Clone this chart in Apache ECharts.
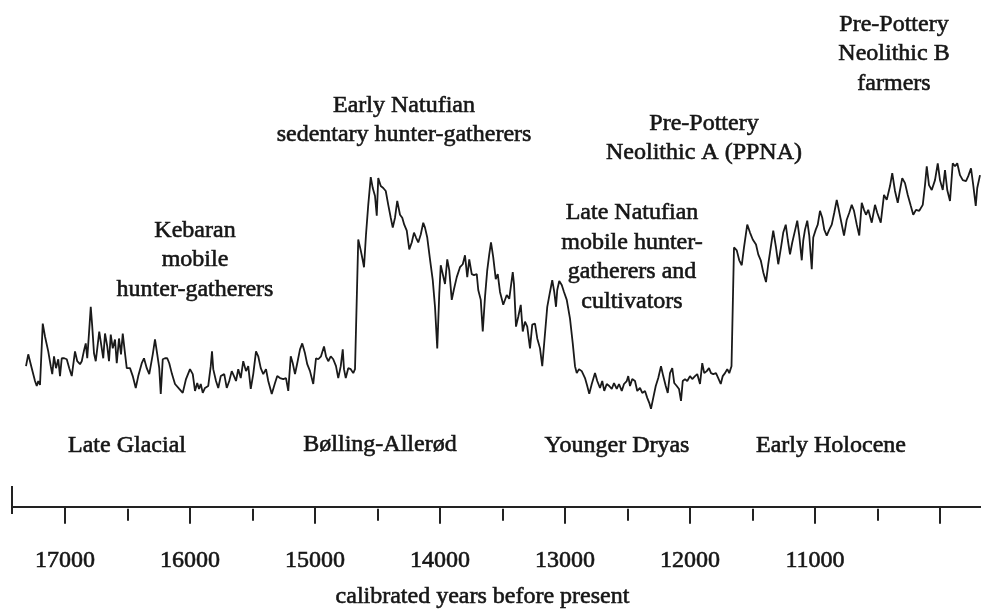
<!DOCTYPE html>
<html>
<head>
<meta charset="utf-8">
<script src="https://cdn.jsdelivr.net/npm/echarts@6/dist/echarts.min.js"></script>
<style>
html,body{margin:0;padding:0;background:#fff;}
#chart{width:981px;height:614px;}
</style>
</head>
<body>
<div id="chart"></div>
<script>
// calibrated years before present
var years = [
17312,17294,17266,17240,17226,17214,17200,17178,17160,17134,17114,17102,17088,17072,17054,17040,17026,17006,16986,16966,
16946,16920,16902,16880,16866,16846,16834,16822,16806,16794,16782,16768,16754,16742,16726,16712,16694,16680,16662,16648,
16634,16618,16600,16586,16568,16552,16538,16520,16506,16480,16458,16434,16414,16386,16368,16346,16326,16298,16280,16262,
16246,16234,16218,16200,16182,16166,16144,16120,16086,
16058,16032,16000,15978,15960,15942,15928,15914,15898,15880,15854,15834,15824,15814,15792,15774,15754,15738,15726,15706,
15686,15666,15648,15632,15614,15594,15574,15552,15534,15514,15494,15472,15454,15434,15414,15392,15374,15346,15320,15302,
15280,15254,15232,15214,15194,15178,15160,15142,15120,15102,15080,15062,15040,15014,14992,14974,14952,14928,14912,14894,
14874,14854,14832,14814,14794,14778,14768,14754,14734,14714,14694,14680,
14654,14634,14618,14608,14592,14574,14554,14538,14520,14506,14494,14474,14454,14434,14414,14394,14378,14360,14342,14320,
14302,14286,14266,14246,14226,14208,14192,14174,14154,14134,14120,14102,14080,14058,14040,14022,14006,13994,13978,13960,
13942,13926,13906,13888,13866,13840,13818,13800,13782,13766,13746,13728,13706,13694,13674,13658,13640,13622,13606,13592,
13574,13554,13538,
13520,13494,13466,13446,13418,13408,13392,13374,13354,13338,13320,13302,13280,13262,13240,13222,13200,13182,13160,13142,
13120,13102,13086,13072,13062,13046,13026,13008,12986,12960,12938,12920,12906,12888,12866,12840,12822,12806,12786,12760,
12742,12720,12702,12686,12666,12646,12626,12608,12586,12568,12546,12528,12506,12494,12480,12462,12440,12422,12400,12382,
12360,12342,12326,12312,12294,12274,12254,12232,12214,12194,12178,12160,12142,12126,12106,12088,12072,12058,12040,12022,
12000,11982,11960,11942,11920,11902,11886,11866,11848,11832,11814,11792,11774,11754,11738,11720,11702,11686,11668,11648,
11626,11606,11586,11568,11542,11520,11498,11472,11454,11434,11414,11392,11374,11354,11334,11312,11294,11272,11254,11234,
11218,11200,11182,11160,11142,11126,11106,11094,11080,11062,11046,11026,11014,10994,10978,10960,10942,10926,10906,10886,
10866,10846,10826,10808,10792,10768,10746,10726,10706,10688,10666,10646,10626,10608,
10592,10574,10546,10520,10502,10474,10448,10426,10400,10382,10360,10338,10320,10302,10280,10258,10234,10214,10192,10166,
10138,10120,10106,10088,10066,10040,10018,10000,9978,9960,9942,9920,9898,9880,9862,9840,9818,9792,9774,9752,
9734,9714,9702,9680
];
// proxy record (arbitrary units, higher = warmer/wetter)
var proxyValues = [
142,154,140,127,122,127,123,185,172,157,142,134,152,140,149,132,150,150,149,140,
132,157,147,144,147,159,165,150,179,202,182,155,147,145,177,165,150,175,162,147,
174,160,169,145,170,154,175,155,140,140,132,120,132,145,150,140,134,154,169,154,
140,114,149,150,150,145,134,124,119,
115,129,139,134,117,125,119,124,115,120,122,142,157,139,127,120,132,130,134,120,
127,137,132,127,139,130,147,137,142,119,134,157,152,140,134,139,127,114,125,132,
130,129,130,117,152,145,134,145,159,165,155,144,137,124,150,149,152,162,152,147,
152,149,142,130,142,159,139,130,140,139,135,139,
270,259,249,242,275,305,333,322,314,294,332,324,322,319,305,292,282,292,309,295,
292,285,279,260,267,277,272,267,275,287,282,272,250,229,202,160,215,244,245,225,
250,239,209,220,232,242,245,254,232,250,235,234,235,219,209,177,212,239,255,267,
252,230,235,
217,204,214,210,237,225,182,192,204,177,187,182,160,184,185,170,160,142,175,202,
217,229,217,202,219,228,224,217,209,190,165,142,135,139,137,130,122,114,124,135,
127,120,127,117,124,122,119,125,119,124,117,124,127,132,122,129,127,117,120,115,
117,110,105,99,110,122,130,142,132,122,115,135,140,125,122,119,107,127,129,127,
132,129,132,134,124,145,135,137,140,135,134,135,130,124,132,135,139,135,142,262,
259,249,244,262,285,277,270,265,255,249,237,227,245,262,279,262,245,262,277,285,
270,255,267,279,289,274,249,269,280,289,274,240,272,280,285,299,292,280,274,280,
285,297,310,299,289,274,290,297,305,299,285,274,307,300,
295,300,287,305,297,287,315,310,324,337,319,307,320,332,327,315,304,295,300,299,
305,325,344,325,320,330,347,330,320,340,320,309,347,344,347,335,330,329,334,342,
325,304,322,335
];
var majorTicks = [17000,16000,15000,14000,13000,12000,11000,10000];
var minorTicks = [16500,15500,14500,13500,12500,11500,10500];
var tickLabels = [17000,16000,15000,14000,13000,12000,11000];
var axisTitle = 'calibrated years before present';
var periodLabels = ['Late Glacial','Bølling-Allerød','Younger Dryas','Early Holocene'];
var cultureLabels = [
  'Kebaran\nmobile\nhunter-gatherers',
  'Early Natufian\nsedentary hunter-gatherers',
  'Late Natufian\nmobile hunter-\ngatherers and\ncultivators',
  'Pre-Pottery\nNeolithic A (PPNA)',
  'Pre-Pottery\nNeolithic B\nfarmers'
];

var seriesData = years.map(function(y,i){return [y, proxyValues[i]];});
var SERIF = '"Liberation Serif","Times New Roman",serif';
var TXT = '#161616';

function txt(text, x, y){
  return {type:'text', x:x, y:y, silent:true,
    style:{text:text, align:'center', verticalAlign:'middle',
      fontFamily:SERIF, fontSize:24, lineHeight:29.5, fill:TXT,
      stroke:TXT, lineWidth:0.6}};
}

var chart = echarts.init(document.getElementById('chart'), null, {renderer:'canvas'});
chart.setOption({
  animation:false,
  backgroundColor:'#ffffff',
  grid:{left:12, right:0, top:0, bottom:100, containLabel:false},
  xAxis:[{
    type:'value', min:9672, max:17424, inverse:true, position:'bottom',
    splitLine:{show:false},
    axisLine:{show:true, lineStyle:{color:'#222', width:2}},
    axisTick:{show:true, customValues:majorTicks, length:17, lineStyle:{color:'#222', width:2}},
    axisLabel:{show:true, customValues:tickLabels, margin:40, fontFamily:SERIF, fontSize:24, color:TXT,
      textBorderColor:TXT, textBorderWidth:0.6,
      formatter:function(v){return String(v);}},
    name:axisTitle, nameLocation:'middle', nameGap:76,
    nameTextStyle:{fontFamily:SERIF, fontSize:24, color:TXT, textBorderColor:TXT, textBorderWidth:0.6, padding:[0,28,0,0]}
  },{
    type:'value', min:9672, max:17424, inverse:true, position:'bottom',
    splitLine:{show:false},
    axisLine:{show:false},
    axisTick:{show:true, customValues:minorTicks, length:12, lineStyle:{color:'#222', width:2}},
    axisLabel:{show:false}
  }],
  yAxis:{type:'value', min:-2, max:512, show:false, splitLine:{show:false}},
  series:[{
    type:'line', xAxisIndex:0, data:seriesData, showSymbol:false, symbol:'none',
    lineStyle:{color:'#1a1a1a', width:1.8}, z:3
  }],
  graphic:[
    {type:'line', silent:true, shape:{x1:12,y1:486,x2:12,y2:514}, style:{stroke:'#222', lineWidth:2}},
    txt(periodLabels[0],127,446),
    txt(periodLabels[1],380,445),
    txt(periodLabels[2],617,446),
    txt(periodLabels[3],831,446),
    txt(cultureLabels[0],195,260),
    txt(cultureLabels[1],404,120),
    txt(cultureLabels[2],632,257),
    txt(cultureLabels[3],704,138),
    txt(cultureLabels[4],894,54)
  ]
});
</script>
</body>
</html>
